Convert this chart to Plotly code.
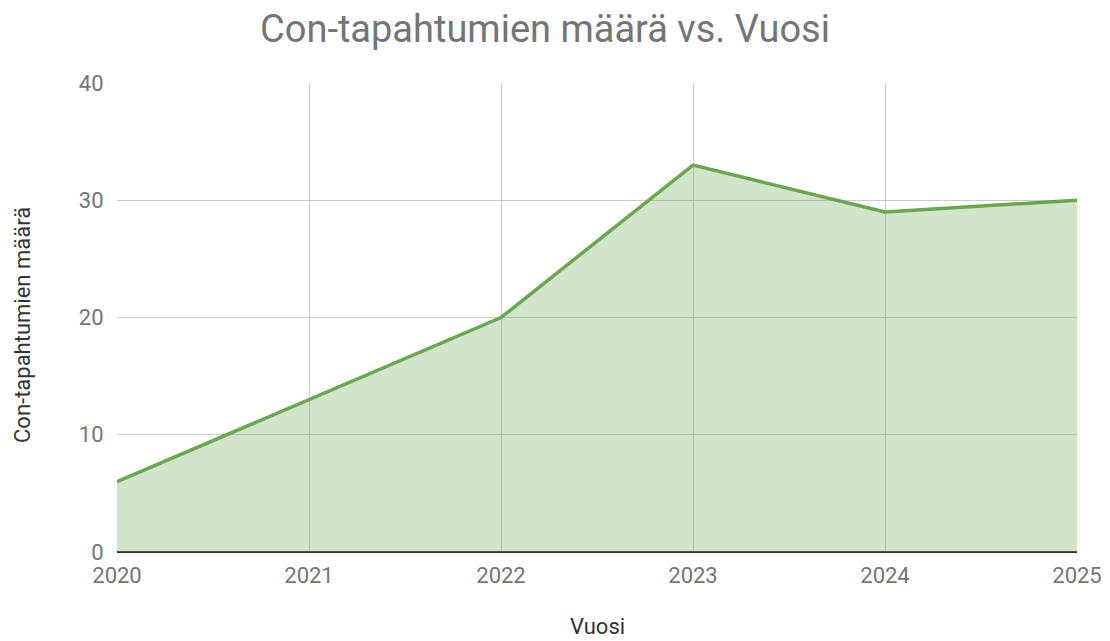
import plotly.graph_objects as go

years = [2020, 2021, 2022, 2023, 2024, 2025]
counts = [6, 13, 20, 33, 29, 30]
y_ticks = [0, 10, 20, 30, 40]

fig = go.Figure()
fig.add_trace(go.Scatter(
    x=years, y=counts, mode="lines",
    line=dict(color="#6aa84f", width=3.5),
    fill="tozeroy", fillcolor="rgba(106,168,79,0.3)",
    showlegend=False,
))

fig.update_layout(
    width=1102, height=633,
    paper_bgcolor="white", plot_bgcolor="white",
    margin=dict(l=109, r=33, t=75, b=89),
    font=dict(family="Roboto", color="#757575"),
    title=dict(text="Con-tapahtumien määrä vs. Vuosi", x=0.4873, xanchor="center",
               y=0.968, yanchor="middle",
               font=dict(family="Roboto", size=38, color="#757575")),
    xaxis=dict(
        range=[2020, 2025], tickvals=years, ticktext=[str(y) for y in years],
        showgrid=True, gridcolor="#cccccc", gridwidth=1,
        tickfont=dict(size=22, color="#757575"),
        ticks="outside", ticklen=4, tickcolor="rgba(0,0,0,0)",
        automargin=False,
        zeroline=False, showline=False,
    ),
    yaxis=dict(
        range=[0, 40], tickvals=y_ticks,
        showgrid=True, gridcolor="#cccccc", gridwidth=1,
        tickfont=dict(size=22, color="#757575"),
        ticks="outside", ticklen=8, tickcolor="rgba(0,0,0,0)",
        automargin=False,
        zeroline=True, zerolinecolor="#333333", zerolinewidth=2,
        showline=False,
    ),
    annotations=[
        dict(text="Vuosi", xref="paper", yref="paper", x=0.501, y=-0.159,
             xanchor="center", yanchor="middle", showarrow=False,
             font=dict(family="Roboto", size=22, color="#333333")),
        dict(text="Con-tapahtumien määrä", xref="paper", yref="paper", x=-0.099, y=0.484,
             xanchor="center", yanchor="middle", showarrow=False, textangle=-90,
             font=dict(family="Roboto", size=22, color="#333333")),
    ],
)

fig.write_html("out.html")
